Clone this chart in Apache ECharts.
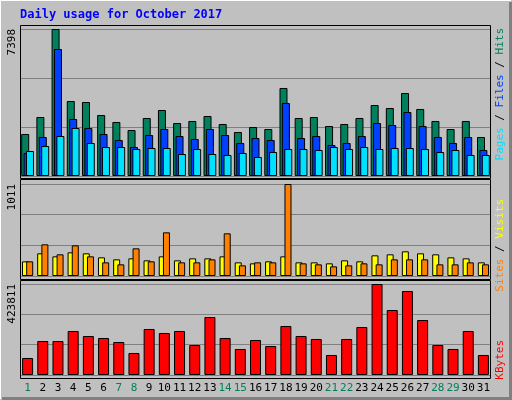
<!DOCTYPE html>
<html>
<head>
<meta charset="utf-8">
<script src="https://cdn.jsdelivr.net/npm/echarts@6/dist/echarts.min.js"></script>
<style>html,body{margin:0;padding:0;background:#c0c0c0}#main{width:512px;height:400px}</style>
</head>
<body>
<div id="main"></div>
<script>
// 数据
var days = ['1','2','3','4','5','6','7','8','9','10','11','12','13','14','15','16','17','18','19','20','21','22','23','24','25','26','27','28','29','30','31'];
var weekend = ['1','7','8','14','15','21','22','28','29'];
var hits = [2114,2969,7398,3774,3724,3070,2718,2315,2919,3322,2667,2768,3020,2617,2214,2466,2365,4429,2919,2969,2516,2617,2919,3573,3422,4177,3372,2768,2365,2768,1963];
var files = [1157,1963,6391,2869,2416,2114,1812,1459,2063,2365,2013,1862,2365,2063,1661,1912,1812,3674,1912,2013,1560,1661,2013,2667,2566,3221,2516,1963,1661,1963,1308];
var pages = [1258,1510,2013,2416,1661,1459,1459,1359,1409,1409,1107,1359,1107,1057,1157,956,1208,1359,1359,1308,1459,1359,1459,1359,1409,1409,1359,1208,1308,1057,1057];
var visits = [161,249,216,260,249,205,183,194,172,216,172,194,194,216,150,139,161,216,150,150,139,172,161,227,238,271,249,238,205,194,150];
var sites = [161,348,238,337,216,150,128,304,161,480,150,150,183,469,117,150,150,1011,139,128,106,117,139,128,183,183,183,128,128,150,128];
var kbytes = [79174,158347,158347,204921,181635,172320,153690,102460,214235,195606,204921,139718,270120,172320,121089,163005,135061,228207,181635,167662,93146,167662,223550,423811,302722,391210,256148,139718,121089,204921,93146];
var maxHits = 7398, maxSites = 1011, maxKbytes = 423811;

var chart = echarts.init(document.getElementById('main'));
var font = 'DejaVu Sans Mono';

function yAx(idx, max) {
  return {
    gridIndex: idx, type: 'value', min: 0, max: max, interval: max / 3,
    axisLabel: { show: false }, axisLine: { show: false }, axisTick: { show: false },
    splitLine: { lineStyle: { color: '#808080', width: 1 } }
  };
}
function xAx(idx, showLabel) {
  return {
    gridIndex: idx, type: 'category', data: days,
    axisLine: { show: false }, axisTick: { show: false },
    axisLabel: {
      show: showLabel, margin: 8, fontFamily: font, fontSize: 11, interval: 0,
      formatter: function (v) { return weekend.indexOf(v) >= 0 ? '{w|' + v + '}' : v; },
      color: '#000', rich: { w: { color: '#00805c', fontFamily: font, fontSize: 11 } }
    }
  };
}
function bar(name, data, color, x, y, w, gap) {
  return {
    name: name, type: 'bar', data: data, xAxisIndex: x, yAxisIndex: y,
    barWidth: w, barGap: gap, animation: false,
    itemStyle: { color: color, borderColor: '#000', borderWidth: 1 }
  };
}
function frame(x1, y1, x2, y2) {
  return { type: 'rect', shape: { x: x1, y: y1, width: x2 - x1, height: y2 - y1 },
    style: { fill: 'none', stroke: '#000', lineWidth: 1 }, z: 10 };
}
function vlabel(text, x, y) {
  return { type: 'text', x: x, y: y, rotation: Math.PI / 2,
    style: { text: text, font: '11px ' + font, fill: '#000', align: 'right', verticalAlign: 'middle' }, z: 10 };
}
function legend(parts, x, y) {
  var txt = parts.map(function (p, i) { return '{s' + i + '|' + p[0] + '}'; }).join('{sep| / }');
  var rich = { sep: { fill: '#000', font: '11px ' + font } };
  parts.forEach(function (p, i) { rich['s' + i] = { fill: p[1], font: '11px ' + font }; });
  return { type: 'text', x: x, y: y, rotation: Math.PI / 2,
    style: { text: txt, rich: rich, align: 'right', verticalAlign: 'middle' }, z: 10 };
}

var option = {
  backgroundColor: '#c0c0c0',
  animation: false,
  grid: [
    { left: 20, right: 21, top: 29, height: 147 },
    { left: 20, right: 21, top: 184, height: 92 },
    { left: 20, right: 21, top: 284, height: 91 }
  ],
  xAxis: [xAx(0, false), xAx(1, false), xAx(2, true)],
  yAxis: [yAx(0, maxHits), yAx(1, maxSites), yAx(2, maxKbytes)],
  series: [
    bar('Hits', hits, '#00805c', 0, 0, 8, '-70%'),
    bar('Files', files, '#0040ff', 0, 0, 8, '-70%'),
    bar('Pages', pages, '#00e0ff', 0, 0, 8, '-70%'),
    bar('Visits', visits, '#ffff00', 1, 1, 7, '-40%'),
    bar('Sites', sites, '#ff8000', 1, 1, 7, '-40%'),
    bar('KBytes', kbytes, '#ff0000', 2, 2, 11, '0%')
  ],
  graphic: [
    { type: 'line', shape: { x1: 0.5, y1: 0.5, x2: 511, y2: 0.5 }, style: { stroke: '#fff', lineWidth: 1 } },
    { type: 'line', shape: { x1: 0.5, y1: 0.5, x2: 0.5, y2: 399 }, style: { stroke: '#fff', lineWidth: 1 } },
    { type: 'line', shape: { x1: 510.5, y1: 2, x2: 510.5, y2: 400 }, style: { stroke: '#808080', lineWidth: 3 } },
    { type: 'line', shape: { x1: 2, y1: 398.5, x2: 512, y2: 398.5 }, style: { stroke: '#808080', lineWidth: 3 } },
    { type: 'text', x: 20, y: 15, style: { text: 'Daily usage for October 2017', font: 'bold 12px ' + font, fill: '#0000ff', verticalAlign: 'middle' } },
    frame(20.5, 25.5, 490.5, 178.5),
    frame(20.5, 179.5, 490.5, 279.5),
    frame(20.5, 280.5, 490.5, 378.5),
    vlabel(String(maxHits), 12, 29),
    vlabel(String(maxSites), 12, 184),
    vlabel(String(maxKbytes), 12, 284),
    legend([['Pages', '#00e0ff'], ['Files', '#0040ff'], ['Hits', '#00805c']], 500, 28),
    legend([['Sites', '#ff8000'], ['Visits', '#ffff00']], 500, 199),
    legend([['KBytes', '#ff0000']], 500, 340)
  ]
};
chart.setOption(option);
</script>
</body>
</html>
